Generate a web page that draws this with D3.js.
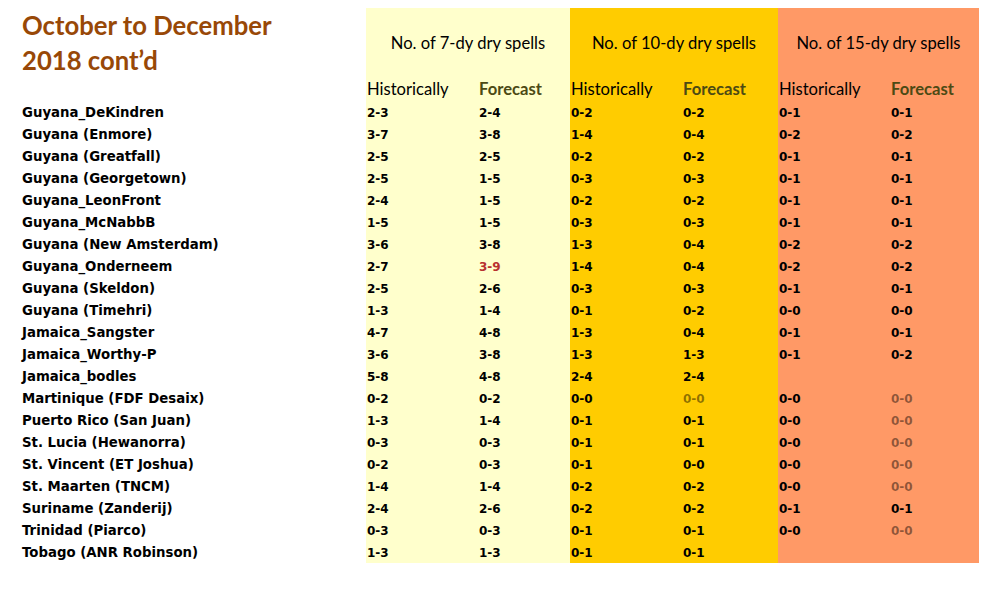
<!DOCTYPE html>
<html><head><meta charset="utf-8">
<script src="https://cdn.jsdelivr.net/npm/d3@7"></script>
<style>body{margin:0;background:#fff}svg{display:block}</style>
</head><body>
<script>
const stations = ["Guyana_DeKindren","Guyana (Enmore)","Guyana (Greatfall)","Guyana (Georgetown)","Guyana_LeonFront","Guyana_McNabbB","Guyana (New Amsterdam)","Guyana_Onderneem","Guyana (Skeldon)","Guyana (Timehri)","Jamaica_Sangster","Jamaica_Worthy-P","Jamaica_bodles","Martinique (FDF Desaix)","Puerto Rico (San Juan)","St. Lucia (Hewanorra)","St. Vincent (ET Joshua)","St. Maarten (TNCM)","Suriname (Zanderij)","Trinidad (Piarco)","Tobago (ANR Robinson)"];
const hist7  = ["2-3","3-7","2-5","2-5","2-4","1-5","3-6","2-7","2-5","1-3","4-7","3-6","5-8","0-2","1-3","0-3","0-2","1-4","2-4","0-3","1-3"];
const fc7    = ["2-4","3-8","2-5","1-5","1-5","1-5","3-8","3-9","2-6","1-4","4-8","3-8","4-8","0-2","1-4","0-3","0-3","1-4","2-6","0-3","1-3"];
const hist10 = ["0-2","1-4","0-2","0-3","0-2","0-3","1-3","1-4","0-3","0-1","1-3","1-3","2-4","0-0","0-1","0-1","0-1","0-2","0-2","0-1","0-1"];
const fc10   = ["0-2","0-4","0-2","0-3","0-2","0-3","0-4","0-4","0-3","0-2","0-4","1-3","2-4","0-0","0-1","0-1","0-0","0-2","0-2","0-1","0-1"];
const hist15 = ["0-1","0-2","0-1","0-1","0-1","0-1","0-2","0-2","0-1","0-0","0-1","0-1","","0-0","0-0","0-0","0-0","0-0","0-1","0-0",""];
const fc15   = ["0-1","0-2","0-1","0-1","0-1","0-1","0-2","0-2","0-1","0-0","0-1","0-2","","0-0","0-0","0-0","0-0","0-0","0-1","0-0",""];
const groups = ["No. of 7-dy dry spells","No. of 10-dy dry spells","No. of 15-dy dry spells"];
const subHeaders = ["Historically","Forecast"];
const titleLines = ["October to December","2018 cont\u2019d"];
// highlighted cells: [column key, station]
const redCells = [["fc7","Guyana_Onderneem"]];
const greyCells = [["fc10","Martinique (FDF Desaix)"],["fc15","Martinique (FDF Desaix)"],["fc15","Puerto Rico (San Juan)"],["fc15","St. Lucia (Hewanorra)"],["fc15","St. Vincent (ET Joshua)"],["fc15","St. Maarten (TNCM)"],["fc15","Trinidad (Piarco)"]];

const cols = [
  {key:"hist7", g:0, sub:0, vals:hist7},
  {key:"fc7", g:0, sub:1, vals:fc7},
  {key:"hist10", g:1, sub:0, vals:hist10},
  {key:"fc10", g:1, sub:1, vals:fc10},
  {key:"hist15", g:2, sub:0, vals:hist15},
  {key:"fc15", g:2, sub:1, vals:fc15}
];

const W = 1008, H = 612;
const svg = d3.select("body").append("svg").attr("width", W).attr("height", H);

const groupColors = ["#FFFFCC","#FFCC00","#FF9966"];
// layout: band edges of the three coloured groups
const edges = [366, 570, 778, 979];
const xGroup = d3.scaleOrdinal().domain(d3.range(groups.length)).range(edges.slice(0,3));
const wGroup = i => edges[i+1] - edges[i];
const xSub = d3.scaleOrdinal().domain([0,1]).range([1, 113]);
const y = d3.scaleBand().domain(stations).range([101, 563]);

// backgrounds
svg.selectAll("rect.bg").data(groups).join("rect")
  .attr("x", (d,i) => xGroup(i)).attr("y", 8)
  .attr("width", (d,i) => wGroup(i)).attr("height", 555)
  .attr("fill", (d,i) => groupColors[i]);

// title
svg.append("g").selectAll("text").data(titleLines).join("text")
  .attr("x", 22).attr("y", (d,i) => 35 + i*35)
  .attr("font-family", "Lato, 'Open Sans', sans-serif").attr("font-weight", "bold")
  .attr("font-size", 25.7).attr("fill", "#984807").text(d => d);

// group headers
svg.append("g").selectAll("text").data(groups).join("text")
  .attr("x", (d,i) => xGroup(i) + wGroup(i)/2).attr("y", 49)
  .attr("text-anchor", "middle")
  .attr("font-family", "Lato, 'Open Sans', sans-serif").attr("font-size", 16.6)
  .attr("fill", "#000").text(d => d);

// sub headers
svg.append("g").selectAll("text").data(cols).join("text")
  .attr("x", d => xGroup(d.g) + xSub(d.sub)).attr("y", 95)
  .attr("font-family", "Lato, 'Open Sans', sans-serif").attr("font-size", 16.6)
  .attr("font-weight", d => d.sub ? "bold" : "normal")
  .attr("fill", d => d.sub ? "#4C4A14" : "#000").text(d => subHeaders[d.sub]);

// row labels
svg.append("g").selectAll("text").data(stations).join("text")
  .attr("x", 22).attr("y", d => y(d) + y.bandwidth()/2 + 5)
  .attr("font-family", "'DejaVu Sans', Verdana, sans-serif").attr("font-weight", "bold")
  .attr("font-size", 13.3).attr("fill", "#000").text(d => d);

// values
const isIn = (list, k, s) => list.some(c => c[0] === k && c[1] === s);
const cells = cols.flatMap(c => stations.map((s,i) => ({col:c, station:s, v:c.vals[i]})));
svg.append("g").selectAll("text").data(cells.filter(d => d.v)).join("text")
  .attr("x", d => xGroup(d.col.g) + xSub(d.col.sub))
  .attr("y", d => y(d.station) + y.bandwidth()/2 + 5)
  .attr("font-family", "'DejaVu Sans', Verdana, sans-serif").attr("font-weight", "bold")
  .attr("font-size", 12)
  .attr("fill", d => isIn(redCells, d.col.key, d.station) ? "#B8312F" : "#000")
  .attr("fill-opacity", d => isIn(greyCells, d.col.key, d.station) ? 0.45 : 1)
  .text(d => d.v);
</script>
</body></html>
